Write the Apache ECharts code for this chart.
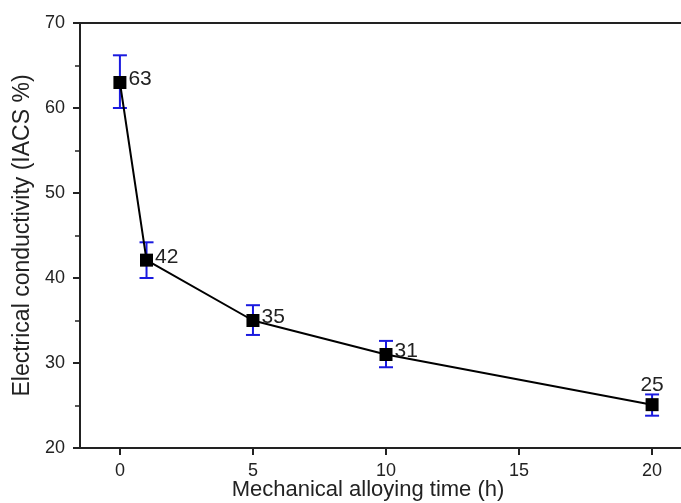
<!DOCTYPE html>
<html>
<head>
<meta charset="utf-8">
<script src="https://cdn.jsdelivr.net/npm/echarts@6/dist/echarts.min.js"></script>
<style>
  html, body { margin: 0; padding: 0; background: #fff; }
  #chart { width: 681px; height: 503px; }
</style>
</head>
<body>
<div id="chart"></div>
<script>
// milling time (h) and measured conductivity
const times = [0, 1, 5, 10, 20];
const conductivity = [63, 42.1, 35, 31, 25.1];
const errLow = [60, 40, 33.3, 29.5, 23.8];
const errHigh = [66.2, 44.2, 36.8, 32.6, 26.3];
const pointLabels = ['63', '42', '35', '31', '25'];
const labelSides = ['right', 'right', 'right', 'right', 'top'];
const xTicks = [0, 5, 10, 15, 20];

const FONT = 'Liberation Sans';
const chart = echarts.init(document.getElementById('chart'));

const mainData = times.map((t, i) => ({
  value: [t, conductivity[i]],
  label: {
    position: labelSides[i],
    distance: 2,
    offset: labelSides[i] === 'right' ? [0, -3] : [0, 0]
  }
}));
const errData = times.map((t, i) => [t, errLow[i], errHigh[i]]);

// draws the vertical whisker with caps for each point
function renderErrorBar(params, api) {
  const x = api.value(0);
  const lo = api.coord([x, api.value(1)]);
  const hi = api.coord([x, api.value(2)]);
  const half = 7;
  const style = {stroke: '#1a1adf', lineWidth: 2};
  return {
    type: 'group',
    children: [
      {type: 'line', shape: {x1: lo[0], y1: lo[1], x2: hi[0], y2: hi[1]}, style: style},
      {type: 'line', shape: {x1: lo[0] - half, y1: lo[1], x2: lo[0] + half, y2: lo[1]}, style: style},
      {type: 'line', shape: {x1: hi[0] - half, y1: hi[1], x2: hi[0] + half, y2: hi[1]}, style: style}
    ]
  };
}

chart.setOption({
  animation: false,
  backgroundColor: '#fff',
  grid: {
    left: 80, right: -11, top: 23, bottom: 55,
    containLabel: false, outerBoundsMode: 'none',
    show: true, borderColor: '#222', borderWidth: 2
  },
  xAxis: {
    type: 'value',
    min: -1.5, max: 21.5,
    name: 'Mechanical alloying time (h)',
    nameLocation: 'middle',
    nameGap: 31,
    nameMoveOverlap: false,
    nameTextStyle: {fontFamily: FONT, fontSize: 22, color: '#222', padding: [0, 36, 0, 0]},
    axisLine: {onZero: false, lineStyle: {color: '#222', width: 2}},
    axisTick: {show: true, inside: false, length: 7, lineStyle: {width: 2}, customValues: xTicks},
    axisLabel: {
      fontFamily: FONT, fontSize: 18, color: '#222', margin: 14,
      customValues: xTicks
    },
    splitLine: {show: false}
  },
  yAxis: {
    type: 'value',
    min: 20, max: 70, interval: 10,
    name: 'Electrical conductivity (IACS %)',
    nameLocation: 'middle',
    nameGap: 44,
    nameTextStyle: {fontFamily: FONT, fontSize: 23, color: '#222'},
    axisLine: {onZero: false, lineStyle: {color: '#222', width: 2}},
    axisTick: {show: true, inside: false, length: 7, lineStyle: {width: 2}},
    minorTick: {show: true, splitNumber: 2, length: 5, lineStyle: {color: '#222', width: 1.5}},
    axisLabel: {fontFamily: FONT, fontSize: 18, color: '#222', margin: 15},
    splitLine: {show: false}
  },
  series: [
    {
      type: 'custom',
      renderItem: renderErrorBar,
      data: errData,
      z: 2
    },
    {
      type: 'line',
      data: mainData,
      symbol: 'rect',
      symbolSize: 13,
      itemStyle: {color: '#000'},
      lineStyle: {color: '#000', width: 2},
      label: {
        show: true,
        fontFamily: FONT, fontSize: 21, color: '#222',
        formatter: (p) => pointLabels[p.dataIndex]
      },
      z: 3
    }
  ]
});
</script>
</body>
</html>
